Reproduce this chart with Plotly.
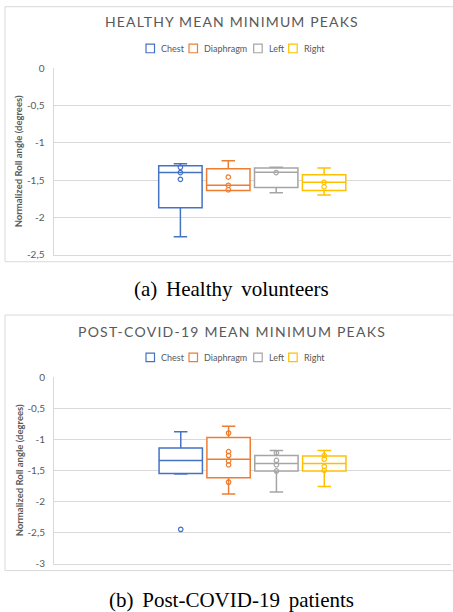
import plotly.graph_objects as go

# Series shared by both panels
categories = ["Chest", "Diaphragm", "Left", "Right"]
colors = ["#4472C4", "#ED7D31", "#A5A5A5", "#FFC000"]
group_label = ["Mean minimum peaks"]

# Healthy volunteers: box statistics per sensor position (degrees)
healthy_upper = [-1.28, -1.24, -1.33, -1.34]
healthy_q3 = [-1.31, -1.35, -1.34, -1.43]
healthy_median = [-1.40, -1.57, -1.395, -1.53]
healthy_q1 = [-1.87, -1.64, -1.60, -1.64]
healthy_lower = [-2.26, -1.64, -1.67, -1.70]
healthy_points = [
    [-1.33, -1.40, -1.49],
    [-1.46, -1.57, -1.63],
    [-1.40],
    [-1.53, -1.59],
]

# Post-COVID-19 patients: box statistics per sensor position (degrees)
covid_upper = [-0.88, -0.79, -1.18, -1.18]
covid_q3 = [-1.14, -0.97, -1.26, -1.27]
covid_median = [-1.34, -1.32, -1.39, -1.39]
covid_q1 = [-1.55, -1.62, -1.51, -1.51]
covid_lower = [-1.56, -1.88, -1.85, -1.76]
covid_points = [
    [-2.45],
    [-0.90, -1.20, -1.26, -1.35, -1.41, -1.69],
    [-1.22, -1.34, -1.41, -1.51],
    [-1.26, -1.32, -1.44, -1.50],
]

# Axis ticks (decimal comma, hyphen minus)
healthy_tick_values = [0, -0.5, -1, -1.5, -2, -2.5]
healthy_tick_labels = ["0", "-0,5", "-1", "-1,5", "-2", "-2,5"]
covid_tick_values = [0, -0.5, -1, -1.5, -2, -2.5, -3]
covid_tick_labels = ["0", "-0,5", "-1", "-1,5", "-2", "-2,5", "-3"]

W, H = 453, 612
FONT = "Lato"
TEXT_GRAY = "#595959"
GRID = "#d9d9d9"

# Page framing: the figure is shown with an 8 px page inset and then fitted to
# the window height, so rows are placed through that same mapping.
INSET = 8.0
FIT = H / (H + 2 * INSET)


def fx(px):
    return px / W


def fy(px):
    row = px / FIT - INSET
    return 1 - row / H


fig = go.Figure()


def add_panel(upper, q3, med, q1, lower, pts, xa, ya, panel):
    for i, name in enumerate(categories):
        fig.add_trace(go.Box(
            name=name,
            orientation="v",
            x=group_label,
            q1=[q1[i]], median=[med[i]], q3=[q3[i]],
            lowerfence=[lower[i]], upperfence=[upper[i]],
            y=[pts[i]],
            boxpoints="all", jitter=0, pointpos=0,
            whiskerwidth=0.31,
            line=dict(color=colors[i], width=1.5),
            fillcolor="white",
            marker=dict(symbol="circle-open", size=4.5, color=colors[i],
                        line=dict(width=1.2)),
            alignmentgroup=panel, offsetgroup=name,
            xaxis=xa, yaxis=ya, showlegend=False,
            hoverinfo="skip",
        ))


add_panel(healthy_upper, healthy_q3, healthy_median, healthy_q1,
          healthy_lower, healthy_points, "x", "y", "healthy")
add_panel(covid_upper, covid_q3, covid_median, covid_q1,
          covid_lower, covid_points, "x2", "y2", "covid")


def value_axis(domain, rng, vals, labels):
    return dict(
        domain=domain, range=rng, tickvals=vals, ticktext=labels,
        showgrid=True, gridcolor=GRID, gridwidth=1,
        showline=True, linecolor=GRID, linewidth=1,
        zeroline=False, ticks="", ticklabelstandoff=6,
        tickfont=dict(family=FONT, size=10, color=TEXT_GRAY),
        title=dict(text="Normalized Roll angle (degrees)", standoff=2,
                   font=dict(family=FONT, size=9.5, color=TEXT_GRAY, weight="bold")),
        fixedrange=True,
    )


def category_axis(domain, anchor):
    return dict(
        domain=domain, anchor=anchor, type="category", range=[-0.5, 0.5],
        showticklabels=False, showgrid=False, zeroline=False,
        showline=True, linecolor=GRID, linewidth=1, ticks="",
        fixedrange=True,
    )


# Compact legend row: square key followed by its label (key left edges in px)
legend_key_x = [146, 189, 253.7, 288.7]
legend_key_size = 8.5
legend_text_gap = 4.5

shapes = [
    dict(type="rect", xref="paper", yref="paper",
         x0=fx(5), x1=1.05, y0=fy(262), y1=fy(8.5),
         line=dict(color=GRID, width=1), layer="below"),
    dict(type="rect", xref="paper", yref="paper",
         x0=fx(5), x1=1.05, y0=fy(569), y1=fy(315),
         line=dict(color=GRID, width=1), layer="below"),
]
annotations = []
for row_y in (50, 357):
    for name, col, kx in zip(categories, colors, legend_key_x):
        shapes.append(dict(
            type="rect", xref="paper", yref="paper",
            x0=fx(kx), x1=fx(kx + legend_key_size),
            y0=fy(row_y + legend_key_size / 2), y1=fy(row_y - legend_key_size / 2),
            line=dict(color=col, width=1.2), fillcolor="white"))
        annotations.append(dict(
            text=name, x=fx(kx + legend_key_size + legend_text_gap), y=fy(row_y),
            xref="paper", yref="paper", showarrow=False,
            xanchor="left", yanchor="middle",
            font=dict(family=FONT, size=9, color=TEXT_GRAY)))

title_font = dict(family=FONT, size=14, color=TEXT_GRAY)
caption_font = dict(family="Liberation Serif", size=21, color="black")

annotations += [
    dict(text='<span style="letter-spacing:1.15px">HEALTHY MEAN MINIMUM PEAKS</span>',
         x=fx(232), y=fy(23), xref="paper", yref="paper", showarrow=False,
         xanchor="center", yanchor="middle", font=title_font),
    dict(text='<span style="letter-spacing:1.25px">POST-COVID-19 MEAN MINIMUM PEAKS</span>',
         x=fx(232), y=fy(331), xref="paper", yref="paper", showarrow=False,
         xanchor="center", yanchor="middle", font=title_font),
    dict(text='<span style="word-spacing:3.5px">(a) Healthy volunteers</span>',
         x=fx(232), y=fy(289), xref="paper", yref="paper", showarrow=False,
         xanchor="center", yanchor="middle", font=caption_font),
    dict(text='<span style="word-spacing:3.5px">(b) Post-COVID-19 patients</span>',
         x=fx(232), y=fy(598), xref="paper", yref="paper", showarrow=False,
         xanchor="center", yanchor="middle", font=caption_font),
]

fig.update_layout(
    width=W, height=H,
    margin=dict(l=0, r=0, t=0, b=0),
    paper_bgcolor="white", plot_bgcolor="white",
    showlegend=False,
    boxmode="group", boxgap=0.518, boxgroupgap=0.094,
    xaxis=category_axis([fx(53.5), fx(451)], "y"),
    yaxis=value_axis([fy(255), fy(69.5)], [-2.5, 0],
                     healthy_tick_values, healthy_tick_labels),
    xaxis2=category_axis([fx(54), fx(451)], "y2"),
    yaxis2=dict(value_axis([fy(562), fy(376.7)], [-3, 0],
                           covid_tick_values, covid_tick_labels), anchor="x2"),
    shapes=shapes,
    annotations=annotations,
)

fig.write_html("out.html")
